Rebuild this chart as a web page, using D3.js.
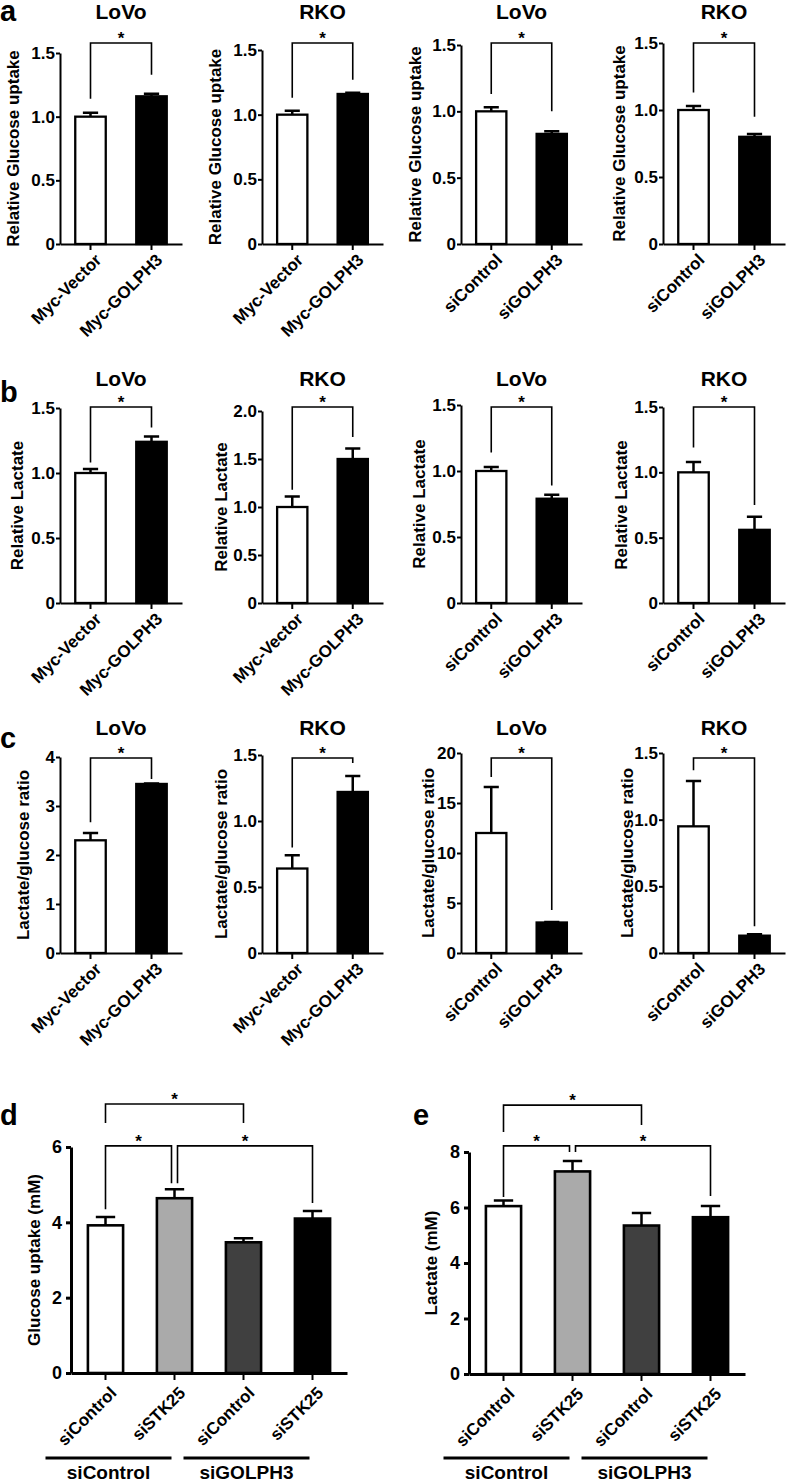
<!DOCTYPE html>
<html><head><meta charset="utf-8">
<script src="https://cdn.jsdelivr.net/npm/d3@7/dist/d3.min.js"></script>
<style>
body{margin:0;background:#fff}
svg{display:block}
</style>
</head><body>
<svg id="chart" width="787" height="1483"></svg>
<script>
// ---------------- DATA ----------------
const panelLetters = ["a", "b", "c", "d", "e"];
const cellLines = ["LoVo", "RKO", "LoVo", "RKO"];
const overCats = ["Myc-Vector", "Myc-GOLPH3"];
const kdCats = ["siControl", "siGOLPH3"];
const rowYTitles = ["Relative Glucose uptake", "Relative Lactate", "Lactate/glucose ratio"];

// row a: relative glucose uptake (mean, SEM)
const glucoseMeans = [[1.00, 1.16], [1.00, 1.16], [1.00, 0.83], [1.00, 0.80]];
const glucoseErrs  = [[0.03, 0.02], [0.03, 0.01], [0.03, 0.02], [0.03, 0.02]];
// row b: relative lactate
const lactateMeans = [[1.00, 1.24], [1.00, 1.50], [1.00, 0.79], [1.00, 0.56]];
const lactateErrs  = [[0.03, 0.04], [0.11, 0.11], [0.03, 0.03], [0.08, 0.10]];
// row c: lactate / glucose ratio
const ratioMeans = [[2.30, 3.45], [0.64, 1.22], [12.0, 3.05], [0.95, 0.13]];
const ratioErrs  = [[0.15, 0.01], [0.10, 0.12], [4.6, 0.05], [0.34, 0.01]];

// y-axis maxima and tick labels
const rowYMax = [[1.5, 1.5, 1.5, 1.5], [1.5, 2.0, 1.5, 1.5], [4, 1.5, 20, 1.5]];
const ticks15 = [0, 0.5, 1.0, 1.5];
const ticks15Labels = ["0", "0.5", "1.0", "1.5"];
const ticks20 = [0, 0.5, 1.0, 1.5, 2.0];
const ticks20Labels = ["0", "0.5", "1.0", "1.5", "2.0"];
const ticks4 = [0, 1, 2, 3, 4];
const ticks4Labels = ["0", "1", "2", "3", "4"];
const ticksR20 = [0, 5, 10, 15, 20];
const ticksR20Labels = ["0", "5", "10", "15", "20"];

// significance bracket leg ends (data units): [left, right]
const legEndsA = [[1.14, 1.33], [1.13, 1.27], [1.13, 1.00], [1.13, 0.95]];
const legEndsB = [[1.08, 1.35], [1.18, 1.73], [1.14, 0.89], [1.19, 0.75]];
const legEndsC = [[2.67, 3.55], [0.80, 1.44], [17.6, 4.3], [1.37, 0.20]];

// rows d / e
const stkCats = ["siControl", "siSTK25", "siControl", "siSTK25"];
const outerGroups = ["siControl", "siGOLPH3"];
const glucoseMM = [3.92, 4.64, 3.47, 4.10];
const glucoseMMErr = [0.22, 0.24, 0.11, 0.20];
const lactateMM = [6.05, 7.30, 5.35, 5.65];
const lactateMMErr = [0.20, 0.38, 0.45, 0.40];
const glucoseTicks = [0, 2, 4, 6];
const lactateTicks = [0, 2, 4, 6, 8];
const glucoseCompare = [
  {a: 0, b: 2, y: 7.14, l: 6.64, r: 6.64},
  {a: 0, b: 1, y: 6.03, l: 4.35, r: 5.04},
  {a: 1, b: 3, y: 6.03, l: 5.04, r: 4.51}
];
const lactateCompare = [
  {a: 0, b: 2, y: 9.69, l: 8.72, r: 8.97},
  {a: 0, b: 1, y: 8.22, l: 6.38, r: 8.00},
  {a: 1, b: 3, y: 8.22, l: 8.00, r: 6.41}
];

// ---------------- LAYOUT / STYLE ----------------
const FONT = '"Liberation Sans", Arial, Helvetica, sans-serif';
const svg = d3.select("#chart");
const twoFills = ["#ffffff", "#000000"];
const fourFills = ["#ffffff", "#aaaaaa", "#404040", "#000000"];

const colX0 = [60, 262, 461, 663];
const colX1 = [182, 383, 582, 785];
const rowZero = [244, 603, 953];
const rowTop = [[53, 50, 45, 43], [408, 411, 405, 407], [757, 755, 753, 753]];
const rowTitleY = [19, 386, 735];
const rowBracketY = [43, 407, 758];
const rowLetterY = [21, 402, 748];
const yTitleOff = [[47, 47, 46, 44], [43, 41, 42, 42], [37, 41, 33, 36]];

function styleAxis(g, lw, fs) {
  g.attr("font-family", null).attr("font-size", null);
  g.selectAll("path.domain").attr("stroke", "#000").attr("stroke-width", lw);
  g.selectAll(".tick line").attr("stroke", "#000").attr("stroke-width", lw);
  g.selectAll(".tick text").attr("font-size", fs).attr("font-weight", "bold")
    .attr("fill", "#000").attr("font-family", FONT);
}

function txt(x, y, s, size, anchor) {
  return svg.append("text").attr("x", x).attr("y", y).text(s)
    .attr("font-family", FONT).attr("font-weight", "bold").attr("font-size", size)
    .attr("text-anchor", anchor || "middle").attr("fill", "#000");
}

function smallChart(p) {
  const g = svg.append("g");
  const idx = d3.range(p.means.length);
  const x = d3.scaleBand().domain(idx).range([p.x0, p.x1]).paddingInner(0.5).paddingOuter(0.25);
  const y = d3.scaleLinear().domain([0, p.ymax]).range([p.y0, p.y1]);
  const cx = i => x(i) + x.bandwidth() / 2;

  g.selectAll("rect.bar").data(p.means).join("rect").attr("class", "bar")
    .attr("x", (d, i) => x(i)).attr("y", d => y(d))
    .attr("width", x.bandwidth()).attr("height", d => p.y0 - y(d))
    .attr("fill", (d, i) => p.fills[i]).attr("stroke", "#000").attr("stroke-width", 2.3);

  const cap = x.bandwidth() * 0.5;
  g.selectAll("path.err").data(p.means).join("path").attr("class", "err")
    .attr("d", (d, i) => `M${cx(i)},${y(d)}V${y(d + p.errs[i])}M${cx(i) - cap / 2},${y(d + p.errs[i])}H${cx(i) + cap / 2}`)
    .attr("stroke", "#000").attr("stroke-width", 2.5).attr("fill", "none");

  const ya = g.append("g").attr("transform", `translate(${p.x0},0)`)
    .call(d3.axisLeft(y).tickValues(p.ticks).tickFormat((d, i) => p.tickLabels[i])
      .tickSize(4).tickSizeOuter(0).tickPadding(1));
  styleAxis(ya, 2, 17);

  const xa = g.append("g").attr("transform", `translate(0,${p.y0})`)
    .call(d3.axisBottom(x).tickFormat(i => p.cats[i]).tickSize(6).tickSizeOuter(0));
  styleAxis(xa, 2, 17);
  xa.selectAll(".tick text").attr("x", 0).attr("y", 0).attr("dy", 0)
    .attr("text-anchor", "end").attr("transform", "translate(12,17) rotate(-45)");

  // title
  txt((p.x0 + p.x1) / 2, p.titleY, p.title, 21);
  // y title
  svg.append("text").attr("transform", `translate(${p.x0 - p.yOff},${(p.y0 + p.y1) / 2}) rotate(-90)`)
    .attr("dy", "0.35em").attr("text-anchor", "middle").text(p.yTitle)
    .attr("font-family", FONT).attr("font-weight", "bold").attr("font-size", 17);

  // bracket
  const lx = cx(0), rx = cx(1);
  g.append("path")
    .attr("d", `M${lx},${y(p.legs[0])}V${p.bracketY}H${rx}V${y(p.legs[1])}`)
    .attr("stroke", "#000").attr("stroke-width", 1.6).attr("fill", "none");
  txt((lx + rx) / 2, p.bracketY + 1, "*", 17);
}

const rowMeans = [glucoseMeans, lactateMeans, ratioMeans];
const rowErrs = [glucoseErrs, lactateErrs, ratioErrs];
const rowLegs = [legEndsA, legEndsB, legEndsC];
function ticksFor(r, c) {
  if (r === 1 && c === 1) return [ticks20, ticks20Labels];
  if (r === 2 && c === 0) return [ticks4, ticks4Labels];
  if (r === 2 && c === 2) return [ticksR20, ticksR20Labels];
  return [ticks15, ticks15Labels];
}

for (let r = 0; r < 3; r++) {
  txt(0, rowLetterY[r], panelLetters[r], 29, "start");
  for (let c = 0; c < 4; c++) {
    const [tv, tl] = ticksFor(r, c);
    smallChart({
      x0: colX0[c], x1: colX1[c], y0: rowZero[r], y1: rowTop[r][c],
      ymax: rowYMax[r][c], ticks: tv, tickLabels: tl,
      means: rowMeans[r][c], errs: rowErrs[r][c], fills: twoFills,
      cats: c < 2 ? overCats : kdCats, title: cellLines[c], titleY: rowTitleY[r],
      yTitle: rowYTitles[r], yOff: yTitleOff[r][c],
      bracketY: rowBracketY[r], legs: rowLegs[r][c]
    });
  }
}

// ---------------- rows d / e ----------------
function bigChart(p) {
  const g = svg.append("g");
  const idx = d3.range(p.means.length);
  const x = d3.scaleBand().domain(idx).range([p.x0, p.x1]).paddingInner(0.49).paddingOuter(0.245);
  const y = d3.scaleLinear().domain([0, p.ymax]).range([p.y0, p.y1]);
  const cx = i => x(i) + x.bandwidth() / 2;

  g.selectAll("rect.bar").data(p.means).join("rect").attr("class", "bar")
    .attr("x", (d, i) => x(i)).attr("y", d => y(d))
    .attr("width", x.bandwidth()).attr("height", d => p.y0 - y(d))
    .attr("fill", (d, i) => fourFills[i]).attr("stroke", "#000").attr("stroke-width", 2.6);

  const cap = x.bandwidth() * 0.55;
  g.selectAll("path.err").data(p.means).join("path").attr("class", "err")
    .attr("d", (d, i) => `M${cx(i)},${y(d)}V${y(d + p.errs[i])}M${cx(i) - cap / 2},${y(d + p.errs[i])}H${cx(i) + cap / 2}`)
    .attr("stroke", "#000").attr("stroke-width", 2.5).attr("fill", "none");

  const ya = g.append("g").attr("transform", `translate(${p.x0},0)`)
    .call(d3.axisLeft(y).tickValues(p.ticks).tickFormat(d3.format("d"))
      .tickSize(5).tickSizeOuter(0).tickPadding(4));
  styleAxis(ya, 3, 18);

  const xa = g.append("g").attr("transform", `translate(0,${p.y0})`)
    .call(d3.axisBottom(x).tickFormat(i => stkCats[i]).tickSize(7).tickSizeOuter(0));
  styleAxis(xa, 3, 17);
  xa.selectAll(".tick line").attr("stroke-width", 2);
  xa.selectAll(".tick text").attr("x", 0).attr("y", 0).attr("dy", 0)
    .attr("text-anchor", "end").attr("transform", "translate(12,21) rotate(-45)");

  svg.append("text").attr("transform", `translate(${p.x0 - p.yOff},${(p.y0 + p.y1) / 2}) rotate(-90)`)
    .attr("dy", "0.35em").attr("text-anchor", "middle").text(p.yTitle)
    .attr("font-family", FONT).attr("font-weight", "bold").attr("font-size", 17);

  // significance brackets
  p.compare.forEach((cmp, k) => {
    const nudgeL = k === 2 ? 3 : 0;
    const nudgeR = k === 1 ? -3 : 0;
    const lx = cx(cmp.a) + nudgeL, rx = cx(cmp.b) + nudgeR;
    g.append("path")
      .attr("d", `M${lx},${y(cmp.l)}V${y(cmp.y)}H${rx}V${y(cmp.r)}`)
      .attr("stroke", "#000").attr("stroke-width", 1.6).attr("fill", "none");
    txt((lx + rx) / 2, y(cmp.y) + 1, "*", 17);
  });

  // outer grouping lines
  [[0, 1], [2, 3]].forEach((pair, k) => {
    const a = cx(pair[0]) - 60, b = cx(pair[1]) - 3;
    g.append("line").attr("x1", a).attr("x2", b).attr("y1", p.groupY).attr("y2", p.groupY)
      .attr("stroke", "#000").attr("stroke-width", 3);
    txt((a + b) / 2, p.groupY + 21, outerGroups[k], 19);
  });
}

txt(0, 1125, panelLetters[3], 29, "start");
bigChart({
  x0: 71, x1: 347, y0: 1373, y1: 1147, ymax: 6, ticks: glucoseTicks,
  means: glucoseMM, errs: glucoseMMErr, yTitle: "Glucose uptake (mM)", yOff: 37,
  compare: glucoseCompare, groupY: 1458
});
txt(413, 1125, panelLetters[4], 29, "start");
bigChart({
  x0: 469, x1: 745, y0: 1374, y1: 1152, ymax: 8, ticks: lactateTicks,
  means: lactateMM, errs: lactateMMErr, yTitle: "Lactate (mM)", yOff: 38,
  compare: lactateCompare, groupY: 1458
});
</script>
</body></html>
